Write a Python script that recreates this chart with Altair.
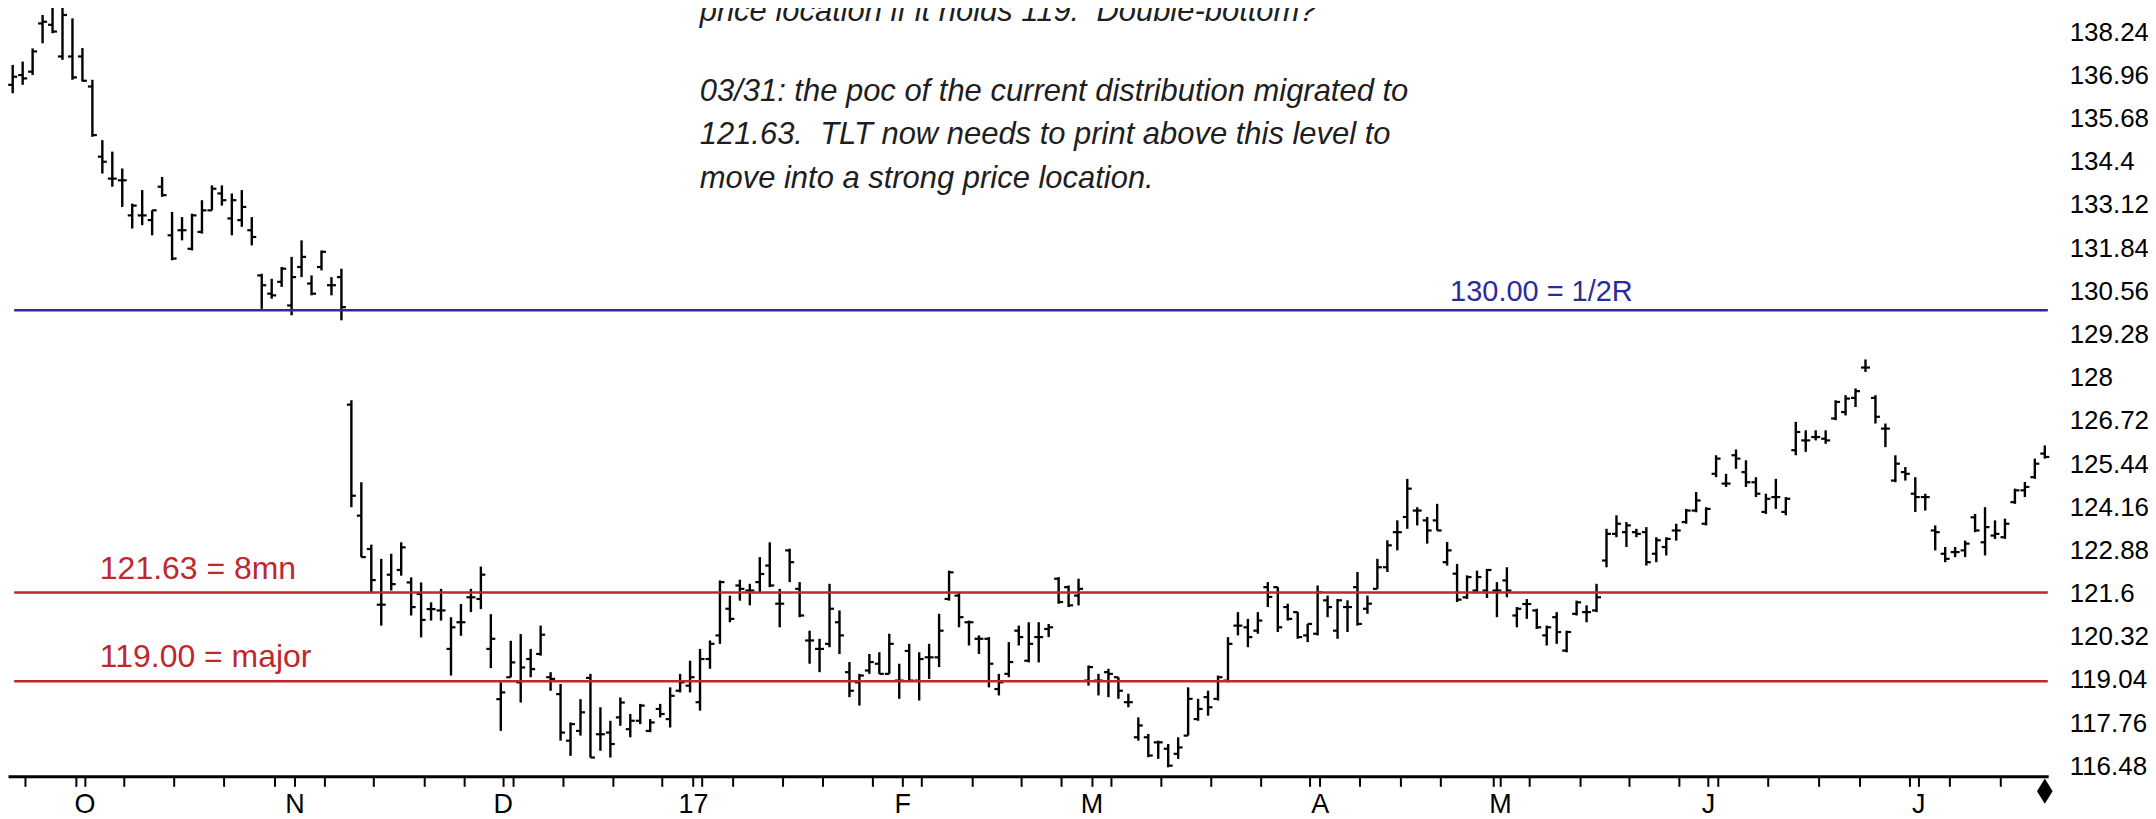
import altair as alt
import pandas as pd

# ---------------- data (daily OHLC, bar index 0..204) ----------------
highs = [137.27,137.37,137.76,138.75,139.10,139.10,138.65,137.77,136.83,135.04,
         134.70,134.20,133.16,133.56,132.96,133.95,132.91,132.76,132.86,133.26,
         133.70,133.70,133.46,133.56,132.76,131.08,130.93,131.28,131.58,132.07,
         131.03,131.77,130.98,131.23,127.33,124.90,123.05,122.63,122.78,123.12,
         122.08,121.93,121.34,121.74,120.90,121.29,121.74,122.40,120.99,118.97,
         120.20,120.40,119.96,120.65,119.27,118.92,117.78,118.47,119.22,118.23,
         117.83,118.52,118.03,118.33,117.88,118.33,118.82,119.22,119.61,119.96,
         120.21,121.99,121.54,122.01,121.89,122.68,123.12,121.74,122.93,121.94,
         120.50,120.26,121.89,121.10,119.57,119.22,119.81,119.86,120.41,119.52,
         120.11,119.86,120.11,121.00,122.28,121.64,120.80,120.36,120.31,119.22,
         120.16,120.65,120.75,120.75,120.70,122.09,121.84,122.04,119.47,119.22,
         119.37,119.12,118.63,117.93,117.44,117.24,117.14,117.34,118.82,118.48,
         118.72,119.17,120.31,121.05,120.85,121.05,121.94,121.79,121.30,121.05,
         120.70,121.84,121.54,121.44,121.40,122.24,121.54,122.63,123.18,123.77,
         125.00,124.16,123.87,124.26,123.13,122.48,122.14,122.28,122.33,121.94,
         122.38,121.20,121.44,121.15,120.65,121.05,120.50,121.39,121.25,121.89,
         123.52,123.92,123.72,123.52,123.57,123.27,123.27,123.67,124.11,124.61,
         124.16,125.70,125.15,125.87,125.55,125.05,124.56,125.00,124.46,126.69,
         126.44,126.44,126.44,127.33,127.48,127.68,128.54,127.48,126.64,125.70,
         125.35,125.05,124.56,123.62,122.98,122.98,123.17,123.96,124.16,123.77,
         123.82,124.71,124.91,125.60,125.99]
lows = [136.43,136.68,136.97,137.91,138.21,137.42,136.83,136.78,135.14,134.05,
        133.66,133.06,132.42,132.52,132.22,133.36,131.48,132.07,131.77,132.27,
        132.96,133.10,132.22,132.47,131.92,130.04,130.34,130.69,129.85,130.98,
        130.44,131.18,130.44,129.70,124.16,122.68,121.64,120.65,121.69,122.13,
        120.95,120.30,120.80,120.80,119.17,120.35,121.05,121.14,119.39,117.53,
        119.12,118.37,119.12,119.76,118.72,117.24,116.79,117.39,116.74,116.94,
        116.74,117.68,117.34,117.73,117.49,117.93,117.63,118.67,118.67,118.13,
        119.37,120.11,120.75,121.39,121.25,121.64,121.79,120.60,121.94,120.90,
        119.52,119.27,120.01,119.81,118.53,118.28,119.22,119.22,119.22,118.48,
        119.02,118.43,119.07,119.42,121.39,120.60,120.06,119.81,118.82,118.58,
        119.12,120.06,119.56,119.56,120.31,121.30,121.20,121.25,118.87,118.58,
        118.53,118.48,118.23,117.24,116.75,116.70,116.45,116.70,117.39,117.83,
        117.98,118.43,118.97,120.36,120.01,120.41,121.20,120.46,120.80,120.26,
        120.16,120.36,120.90,120.26,120.46,120.65,121.00,121.74,122.24,122.88,
        123.52,123.62,123.08,123.47,122.43,121.35,121.44,121.64,121.47,120.90,
        121.49,120.60,120.85,120.55,120.06,120.11,119.86,120.95,120.75,121.05,
        122.38,123.27,122.98,123.27,122.43,122.53,122.73,123.17,123.67,124.01,
        123.62,125.05,124.76,125.30,124.76,124.46,123.96,124.11,123.92,125.70,
        125.80,126.14,126.04,126.74,126.88,127.13,128.17,126.64,125.94,124.90,
        124.95,124.02,124.06,122.88,122.53,122.68,122.68,123.42,122.73,123.22,
        123.22,124.26,124.46,125.00,125.60]
opens = [136.68,136.97,137.07,138.50,138.46,137.52,137.52,137.52,136.63,134.55,
         133.90,133.85,132.81,132.81,132.67,133.66,132.22,132.37,131.82,132.32,
         132.96,133.46,132.72,132.67,132.37,131.03,130.49,130.84,130.14,131.28,
         130.79,131.28,130.74,130.98,127.20,123.91,122.92,121.27,122.16,122.30,
         121.93,121.59,121.14,121.10,119.96,120.75,121.49,121.44,119.96,118.47,
         119.12,118.97,119.66,119.81,119.12,118.62,117.24,117.53,119.10,117.43,
         117.48,117.93,117.58,117.83,117.53,118.18,117.88,118.72,118.87,118.38,
         119.66,120.36,121.15,121.84,121.69,121.94,122.43,121.30,122.88,121.74,
         120.21,119.96,120.11,120.75,119.27,118.97,119.32,119.52,119.22,119.02,
         119.90,119.02,119.71,119.71,121.44,121.54,120.75,120.26,120.26,118.77,
         119.22,120.50,119.61,120.31,120.55,122.04,121.79,121.54,119.02,119.02,
         119.27,119.12,118.38,117.34,117.34,117.19,117.00,116.85,117.39,117.88,
         118.53,118.48,119.02,120.65,120.60,120.50,121.79,121.79,121.20,121.05,
         120.36,120.41,121.40,120.50,121.20,121.79,121.15,121.74,122.38,123.42,
         123.87,124.06,123.77,123.77,122.53,122.19,121.49,121.69,121.69,121.69,
         121.99,120.95,121.29,121.10,120.36,120.90,119.91,121.00,121.05,121.10,
         122.58,123.37,123.42,123.42,123.42,122.78,122.98,123.47,123.72,124.06,
         123.67,125.15,124.86,125.70,125.20,124.90,124.02,124.46,124.02,125.85,
         126.14,126.24,126.19,126.79,126.98,127.40,128.30,127.40,126.49,124.95,
         125.20,124.56,124.46,123.47,122.78,122.83,122.88,123.86,123.12,123.32,
         123.27,124.31,124.66,125.05,125.75]
closes = [136.92,136.87,137.67,138.55,138.26,138.75,136.90,136.80,135.19,134.40,
          133.90,133.85,133.10,132.81,132.96,133.41,131.53,132.37,132.81,132.96,
          133.60,133.26,133.26,133.06,132.17,130.74,130.44,131.23,130.98,131.58,
          130.49,131.73,130.74,130.09,124.50,122.68,122.00,121.27,121.88,122.97,
          121.20,120.82,121.14,121.10,120.60,120.75,121.49,122.16,120.26,118.67,
          119.56,119.41,119.36,120.38,119.07,117.48,117.73,118.08,116.74,117.43,
          117.14,118.37,117.83,118.28,117.78,118.03,118.57,118.97,119.12,119.66,
          120.11,121.94,120.85,121.74,121.69,122.18,121.84,121.30,122.53,120.95,
          120.21,119.96,121.15,120.36,118.72,119.17,119.57,119.22,120.11,119.02,
          119.02,119.66,119.71,120.50,122.23,120.90,120.75,120.26,119.52,118.97,
          119.57,120.31,120.11,120.31,120.60,121.35,121.25,121.74,119.42,119.02,
          119.22,118.72,118.38,117.69,116.80,117.19,116.50,117.04,118.48,118.18,
          118.23,119.12,120.11,120.65,120.31,120.80,121.50,120.60,120.85,120.31,
          120.70,121.64,121.20,121.40,121.20,120.70,121.30,122.38,123.03,123.42,
          124.71,124.06,123.47,123.47,122.88,121.42,122.09,122.09,122.30,121.69,
          121.69,121.15,121.29,120.60,120.60,120.46,120.46,121.34,121.05,121.49,
          123.37,123.67,123.62,123.37,122.53,123.18,123.22,123.47,124.06,124.36,
          124.11,125.60,124.86,125.60,124.90,124.56,124.41,124.46,124.41,126.39,
          126.14,126.24,126.14,127.28,127.38,127.60,128.30,126.84,126.49,125.45,
          125.15,124.46,124.46,123.42,122.63,122.83,123.08,123.47,123.57,123.37,
          123.67,124.66,124.76,125.45,125.65]

# horizontal reference levels
blue_level = [130.00]
blue_label = ["130.00 = 1/2R"]
red_levels = [121.63, 119.00]
red_labels = ["121.63 = 8mn", "119.00 = major"]

# right-hand price scale labels
y_tick_values = [138.24, 136.96, 135.68, 134.4, 133.12, 131.84, 130.56, 129.28, 128,
                 126.72, 125.44, 124.16, 122.88, 121.6, 120.32, 119.04, 117.76, 116.48]

# time axis: tick marks (bar index) and month labels
x_tick_values = [1.2, 6.3, 7.2, 11.2, 16.2, 21.2, 26.3, 28.3, 31.3, 36.2, 41.3, 45.3, 49.2,
                 50.2, 55.2, 60.3, 65.2, 68.3, 69.2, 72.3, 77.3, 81.3, 86.3, 89.3, 91.2,
                 96.3, 101.2, 105.2, 108.3, 110.3, 115.3, 120.3, 125.3, 130.2, 131.2,
                 135.2, 139.3, 143.3, 148.6, 149.3, 152.2, 157.3, 162.3, 167.3, 170.2,
                 171.2, 176.2, 181.3, 185.4, 190.4, 191.3, 194.4, 199.5]
month_names = ["O", "N", "D", "17", "F", "M", "A", "M", "J", "J"]
month_at = [7.2, 28.3, 49.2, 68.3, 89.3, 108.3, 131.2, 149.3, 170.2, 191.3]

note_first = ["price location if it holds 119.\u00a0 Double-bottom?"]
note_rest = ["03/31: the poc of the current distribution migrated to",
             "121.63.\u00a0 TLT now needs to print above this level to",
             "move into a strong price location."]

# ---------------- chart ----------------
FONT = "Liberation Sans, Arial, sans-serif"
BLUE = "#2b2b9c"
RED = "#c0272d"

n = len(highs)
bars = pd.DataFrame({"i": list(range(n)), "high": highs, "low": lows,
                     "open": opens, "close": closes})
blue_df = pd.DataFrame({"value": blue_level, "label": blue_label})
red_df = pd.DataFrame({"value": red_levels, "label": red_labels})

W, H = 2044, 769
XMIN, XMAX = -0.471, 204.34
YMIN, YMAX = 116.183, 138.935
xs = alt.Scale(domain=[XMIN, XMAX], nice=False, zero=False)
ys = alt.Scale(domain=[YMIN, YMAX], nice=False, zero=False)

label_expr = " : ".join(f"datum.value == {p} ? '{m}'" for p, m in zip(month_at, month_names)) + " : ''"

x_axis = alt.Axis(values=x_tick_values, labelExpr=label_expr, title=None, grid=False,
                  tickSize=10, tickWidth=2, tickColor="black", domainColor="black",
                  domainWidth=3, labelFont=FONT, labelFontSize=27, labelColor="black",
                  labelBaseline="middle", labelPadding=18, labelOverlap=False,
                  labelFlush=False, labelBound=False, labelAngle=0)
y_axis = alt.Axis(values=y_tick_values, orient="right", labelExpr="datum.value + ''",
                  title=None, grid=False, ticks=False, domain=False, labelAlign="left",
                  labelBaseline="middle", labelFont=FONT, labelFontSize=26,
                  labelColor="black", labelPadding=21, labelOverlap=False,
                  labelFlush=False, labelBound=False)


def X(field):
    return alt.X(field, scale=xs, axis=x_axis, title=None)


def Y(field):
    return alt.Y(field, scale=ys, axis=y_axis, title=None)


base = alt.Chart(bars)

hl = base.mark_rule(color="black", strokeWidth=2.4).encode(
    x=X("i:Q"), y=Y("low:Q"), y2="high:Q")

open_tick = base.transform_calculate(xo="datum.i - 0.45").mark_rule(
    color="black", strokeWidth=2.2).encode(x=X("xo:Q"), x2="i:Q", y=Y("open:Q"))

close_tick = base.transform_calculate(xc="datum.i + 0.45").mark_rule(
    color="black", strokeWidth=2.2).encode(x=X("i:Q"), x2="xc:Q", y=Y("close:Q"))

span = {"x0": "0.15", "x1": str(n - 0.7)}

blue_rule = alt.Chart(blue_df).transform_calculate(**span).mark_rule(
    color=BLUE, strokeWidth=2.6).encode(x=X("x0:Q"), x2="x1:Q", y=Y("value:Q"))
red_rule = alt.Chart(red_df).transform_calculate(**span).mark_rule(
    color=RED, strokeWidth=2.6).encode(x=X("x0:Q"), x2="x1:Q", y=Y("value:Q"))

blue_text = alt.Chart(blue_df).transform_calculate(at="144.3").mark_text(
    align="left", baseline="alphabetic", dy=-9, font=FONT, fontSize=29, color=BLUE).encode(
    x=X("at:Q"), y=Y("value:Q"), text="label:N")
red_text = alt.Chart(red_df).transform_calculate(at="8.75").mark_text(
    align="left", baseline="alphabetic", dy=-14, font=FONT, fontSize=32, color=RED).encode(
    x=X("at:Q"), y=Y("value:Q"), text="label:N")

note_style = dict(align="left", baseline="alphabetic", font=FONT, fontStyle="italic",
                  fontSize=31, lineHeight=44, color="#1e1e1e")
note1 = alt.Chart(pd.DataFrame({"x": [68.97], "y": [138.58]})).mark_text(**note_style).encode(
    x=X("x:Q"), y=Y("y:Q"), text=alt.value(note_first))
note2 = alt.Chart(pd.DataFrame({"x": [68.97], "y": [136.213]})).mark_text(**note_style).encode(
    x=X("x:Q"), y=Y("y:Q"), text=alt.value(note_rest))

last = bars.tail(1)
diamond = alt.Chart(last).transform_calculate(yb=f"{YMIN} - 0.44").mark_point(
    shape="M0,-1L0.62,0L0,1L-0.62,0Z", filled=True, color="black", opacity=1,
    size=640, clip=False).encode(x=X("i:Q"), y=Y("yb:Q"))

chart = alt.layer(hl, open_tick, close_tick, blue_rule, red_rule, blue_text, red_text,
                  note1, note2, diamond).properties(
    width=W, height=H,
    autosize=alt.AutoSizeParams(type="none"),
    padding={"left": 0, "top": 0, "right": 100, "bottom": 42},
    background="white",
).configure_view(stroke=None)

chart.save("out.html", embed_options={"renderer": "svg", "actions": False})
